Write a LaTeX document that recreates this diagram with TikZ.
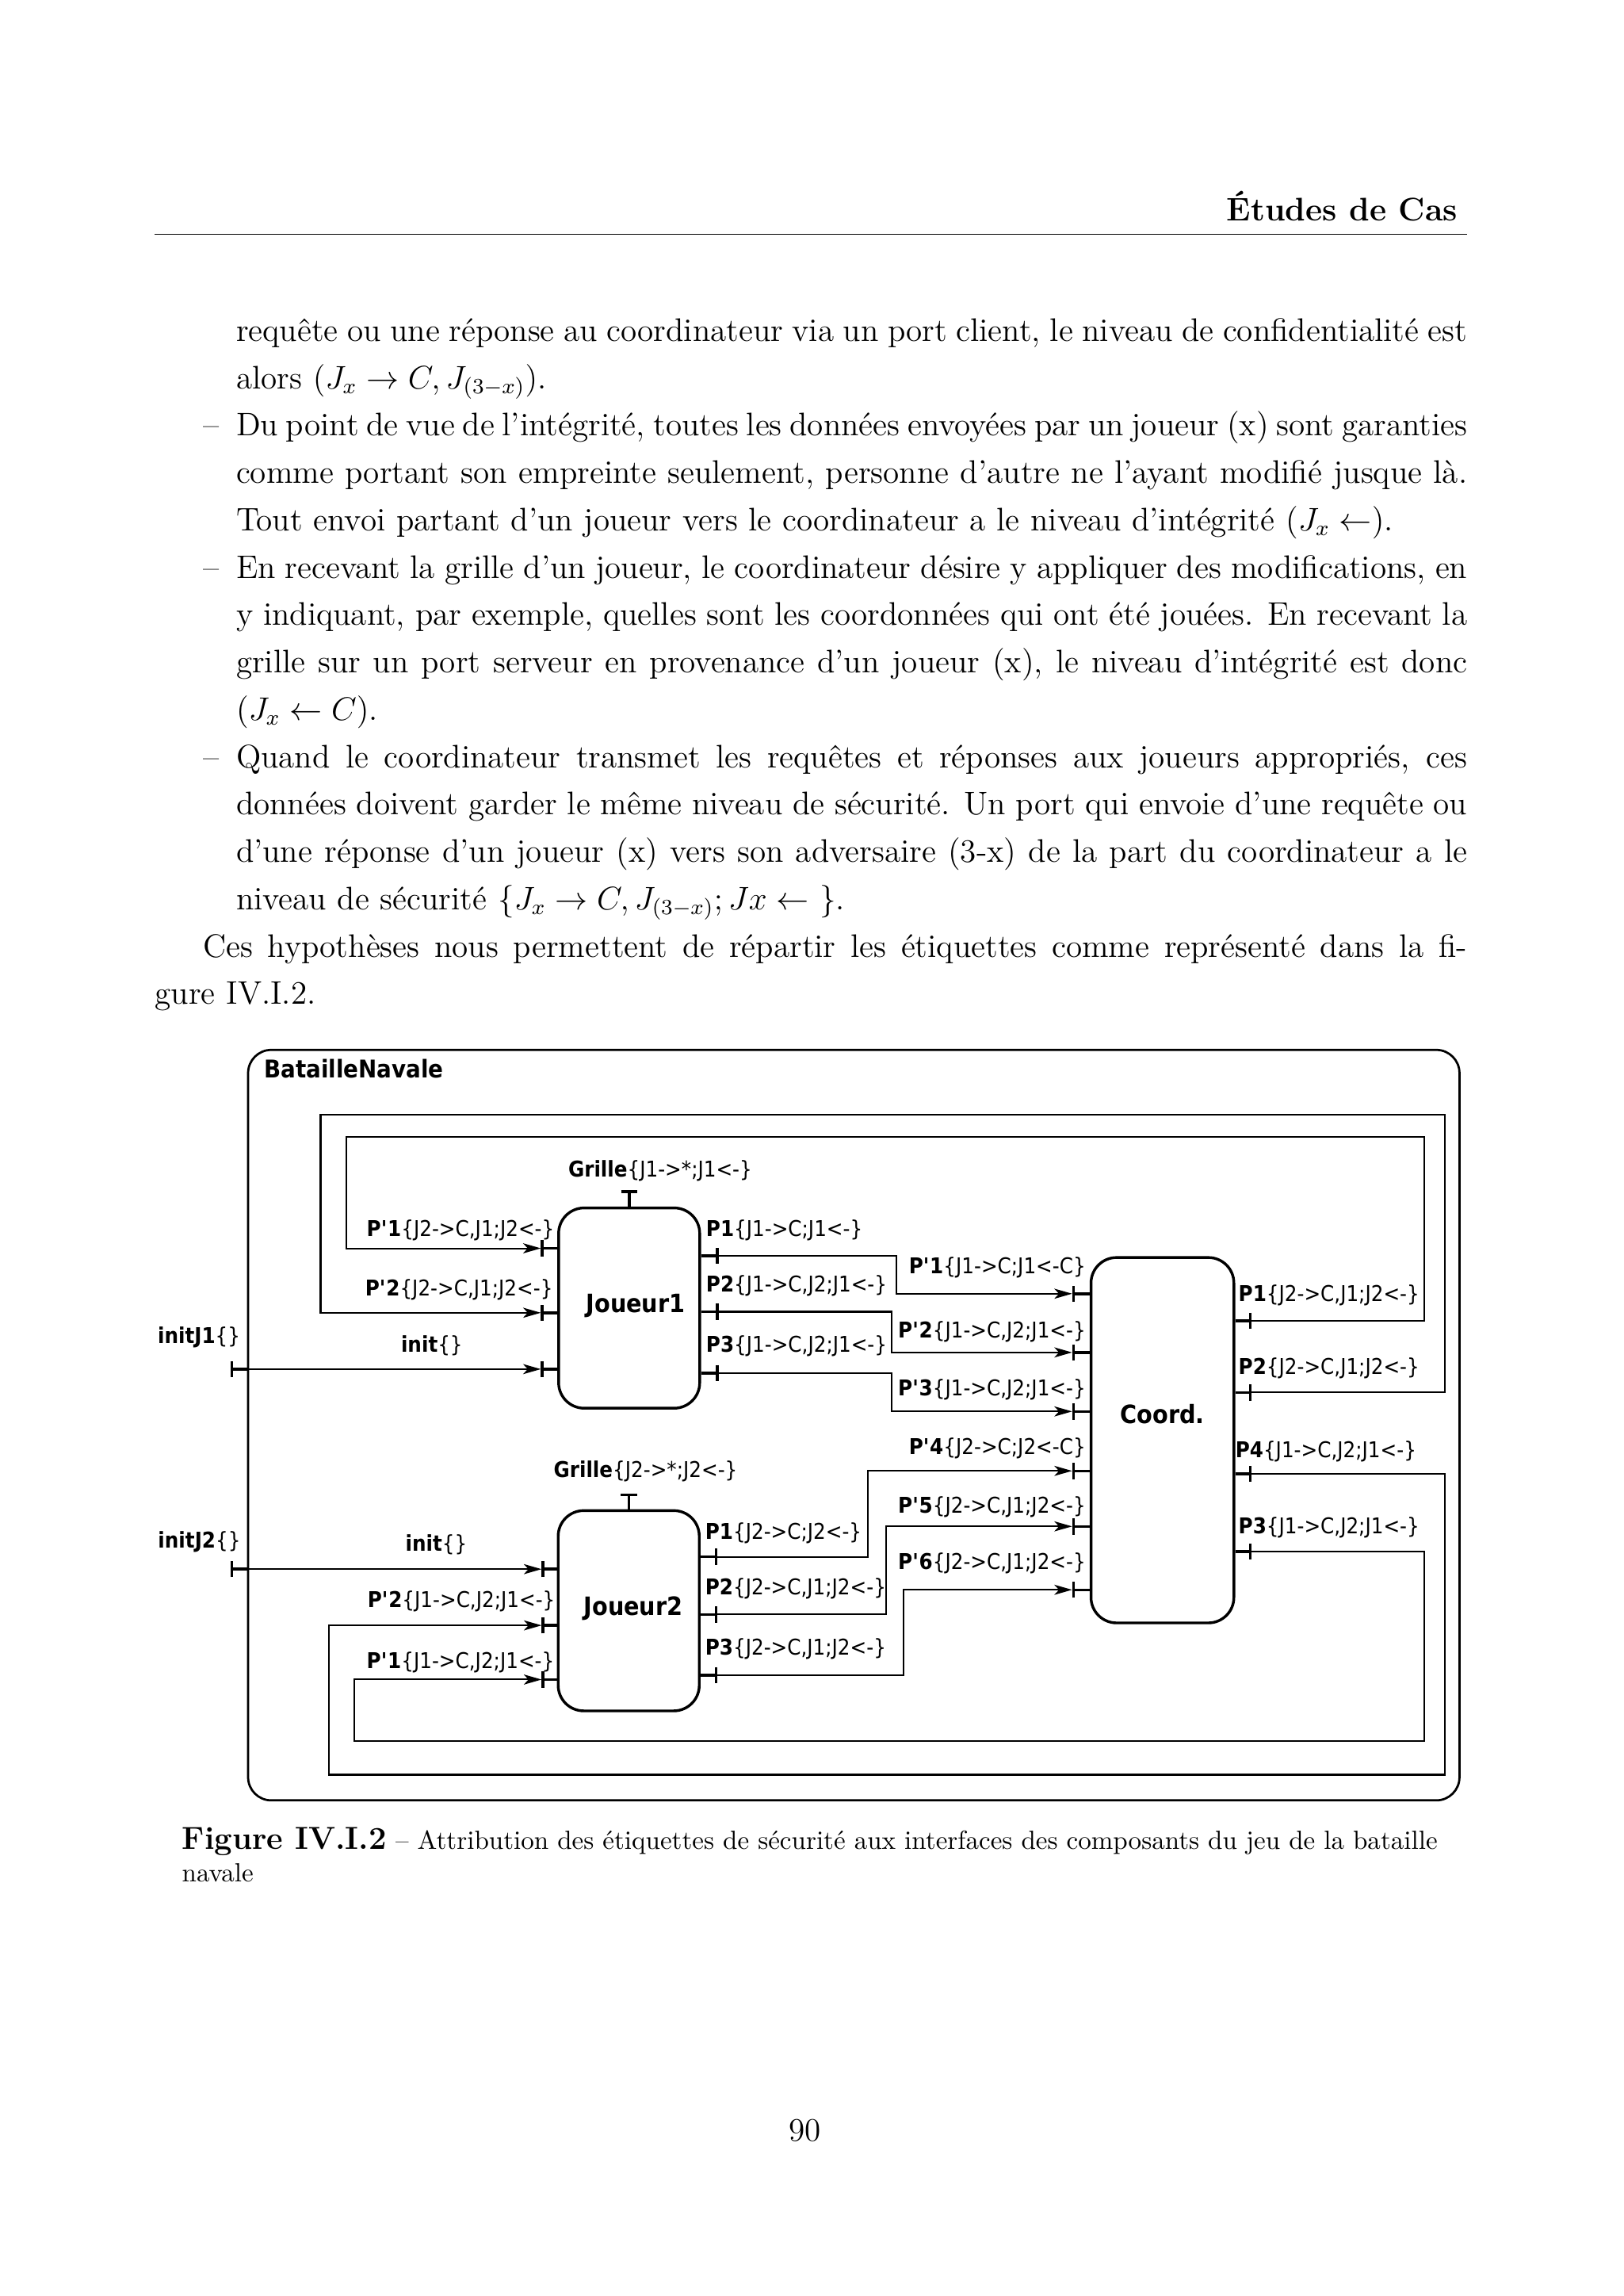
\documentclass[tikz,border=0pt]{standalone}
\usepackage{fontspec}
\newfontfamily\diafont[FakeStretch=0.9]{DejaVu Sans}
\usetikzlibrary{arrows.meta, positioning}
\newcommand{\plbl}[2]{\textbf{#1}\{#2\}}
\newcommand{\justline}[2]{\makebox[#1][s]{\spaceskip=0pt\relax\xspaceskip=0pt\relax #2}}

\begin{document}
\begin{tikzpicture}[x=0.18936mm, y=-0.18936mm,
        comp/.style={draw, line width=1pt, rounded corners=3.3mm, minimum width=18.25mm, minimum height=25.9mm},
        compname/.style={font=\diafont\bfseries\fontsize{9.3}{11}\selectfont},
        stub/.style={line width=1pt, -{Bar[width=2.1mm]}},
        conn/.style={line width=0.6pt, -{Stealth[length=2.3mm, width=1.3mm, inset=0.6mm]}},
        lbl/.style={inner sep=0pt, font=\diafont\fontsize{8}{9.6}\selectfont},
        body/.style={anchor=base west, inner sep=0pt, font=\fontsize{12}{17.43}\selectfont}
    ]
        \fill[white] (0,0) rectangle (1109,1568);
        \useasboundingbox (0,0) rectangle (1109,1568);

        % Page header
        \node[anchor=base east, inner sep=0pt, font=\bfseries\fontsize{12}{14.5}\selectfont] (hdr) at (996,151) {Études de Cas};
        \draw[line width=0.5pt] (105.6,160) -- (1002,160);

        % Text
        \node[body, text width=159.25mm] (par0) at (161,233) {%
            \justline{159.25mm}{requête ou une réponse au coordinateur via un port client, le niveau de confidentialité est}\\
            alors $(J_x \rightarrow C, J_{(3-x)})$.};
        \node[anchor=base east, inner sep=0pt, font=\fontsize{12}{14.5}\selectfont] (d1) at (150,297.7) {\textendash};
        \node[body, text width=159.25mm] (item1) at (161,297.7) {%
            \justline{159.25mm}{Du point de vue de l'intégrité, toutes les données envoyées par un joueur (x) sont garanties}\\
            \justline{159.25mm}{comme portant son empreinte seulement, personne d'autre ne l'ayant modifié jusque là.}\\
            Tout envoi partant d'un joueur vers le coordinateur a le niveau d'intégrité $(J_x \leftarrow)$.};
        \node[anchor=base east, inner sep=0pt, font=\fontsize{12}{14.5}\selectfont] (d2) at (150,394.8) {\textendash};
        \node[body, text width=159.25mm] (item2) at (161,394.8) {%
            \justline{159.25mm}{En recevant la grille d'un joueur, le coordinateur désire y appliquer des modifications, en}\\
            \justline{159.25mm}{y indiquant, par exemple, quelles sont les coordonnées qui ont été jouées. En recevant la}\\
            \justline{159.25mm}{grille sur un port serveur en provenance d'un joueur (x), le niveau d'intégrité est donc}\\
            $(J_x \leftarrow C)$.};
        \node[anchor=base east, inner sep=0pt, font=\fontsize{12}{14.5}\selectfont] (d3) at (150,524.2) {\textendash};
        \node[body, text width=159.25mm] (item3) at (161,524.2) {%
            \justline{159.25mm}{Quand le coordinateur transmet les requêtes et réponses aux joueurs appropriés, ces}\\
            \justline{159.25mm}{données doivent garder le même niveau de sécurité. Un port qui envoie d'une requête ou}\\
            \justline{159.25mm}{d'une réponse d'un joueur (x) vers son adversaire (3-x) de la part du coordinateur a le}\\
            niveau de sécurité $\{J_x \rightarrow C, J_{(3-x)}; Jx \leftarrow\ \}$.};
        \node[body, text width=169.74mm] (par1) at (105.6,653.6) {%
            \hspace*{6.2mm}\justline{163.54mm}{Ces hypothèses nous permettent de répartir les étiquettes comme représenté dans la fi-}\\
            gure IV.I.2.};

        % Composite
        \node[draw, line width=0.8pt, rounded corners=3mm, minimum width=156.7mm, minimum height=97.05mm] (bn) at (583.25,973.25) {};
        \node[anchor=west, inner sep=0pt, font=\diafont\bfseries\fontsize{9}{11}\selectfont] (bntitle) at (180,730) {BatailleNavale};

        % Components
        \node[comp, label={[compname, xshift=0.85mm, yshift=0.3mm]center:Joueur1}] (j1) at (429.8,893.3) {};
        \node[comp, label={[compname, xshift=0.6mm, yshift=0.3mm]center:Joueur2}] (j2) at (429.5,1100) {};
        \node[comp, minimum width=18.48mm, minimum height=47.25mm, label={[compname, yshift=3.4mm]center:Coord.}] (co) at (794.1,983.55) {};

        % Port ends
        \coordinate (bn-i1) at (157.5,935);
        \coordinate (bn-i2) at (157.5,1071.6);
        \coordinate (j1-gr) at (429.8,812.8);
        \coordinate (j1-pp1) at (369.5,852.5);
        \coordinate (j1-pp2) at (369.5,896.5);
        \coordinate (j1-in) at (369.5,935);
        \coordinate (j1-p1) at (491,857.7);
        \coordinate (j1-p2) at (491,895.8);
        \coordinate (j1-p3) at (491,937.7);
        \coordinate (j2-gr) at (429.5,1019.8);
        \coordinate (j2-in) at (370,1071.6);
        \coordinate (j2-pp2) at (370,1110);
        \coordinate (j2-pp1) at (370,1147);
        \coordinate (j2-p1) at (490,1063.2);
        \coordinate (j2-p2) at (490,1102.5);
        \coordinate (j2-p3) at (490,1144);
        \coordinate (co-pp1) at (732.4,883.5);
        \coordinate (co-pp2) at (732.4,923.6);
        \coordinate (co-pp3) at (732.4,963.9);
        \coordinate (co-pp4) at (732.4,1004.5);
        \coordinate (co-pp5) at (732.4,1042.4);
        \coordinate (co-pp6) at (732.4,1085.7);
        \coordinate (co-p1) at (855,902);
        \coordinate (co-p2) at (855,951);
        \coordinate (co-p4) at (855,1006.6);
        \coordinate (co-p3) at (855,1059.5);

        % Port stubs
        \draw[stub] (bn.west |- bn-i1) -- (bn-i1);
        \draw[stub] (bn.west |- bn-i2) -- (bn-i2);
        \draw[stub] (j1.north) -- (j1-gr);
        \draw[stub] (j2.north) -- (j2-gr);
        \foreach \p in {pp1,pp2,in} \draw[stub] (j1.west |- j1-\p) -- (j1-\p);
        \foreach \p in {p1,p2,p3} \draw[stub] (j1.east |- j1-\p) -- (j1-\p);
        \foreach \p in {pp1,pp2,in} \draw[stub] (j2.west |- j2-\p) -- (j2-\p);
        \foreach \p in {p1,p2,p3} \draw[stub] (j2.east |- j2-\p) -- (j2-\p);
        \foreach \p in {pp1,pp2,pp3,pp4,pp5,pp6} \draw[stub] (co.west |- co-\p) -- (co-\p);
        \foreach \p in {p1,p2,p3,p4} \draw[stub] (co.east |- co-\p) -- (co-\p);

        % Connections
        \draw[conn] (bn.west |- bn-i1) -- (j1-in);
        \draw[conn] (bn.west |- bn-i2) -- (j2-in);
        \draw[conn] (co-p1) -| (973.1,776.2) -| (236.4,852.5) -- (j1-pp1);
        \draw[conn] (co-p2) -| (987.2,761.2) -| (219,896.5) -- (j1-pp2);
        \draw[conn] (j1-p1) -| (612.3,883.5) -- (co-pp1);
        \draw[conn] (j1-p2) -| (609.2,923.6) -- (co-pp2);
        \draw[conn] (j1-p3) -| (609.2,963.9) -- (co-pp3);
        \draw[conn] (j2-p1) -| (592.9,1004.5) -- (co-pp4);
        \draw[conn] (j2-p2) -| (605.3,1042.4) -- (co-pp5);
        \draw[conn] (j2-p3) -| (617.2,1085.7) -- (co-pp6);
        \draw[conn] (co-p4) -| (987.2,1212) -| (224.7,1110) -- (j2-pp2);
        \draw[conn] (co-p3) -| (973.1,1189.2) -| (241.8,1147) -- (j2-pp1);

        % Port labels
        \node[lbl, anchor=east] (l-i1) at (164.5,913.3) {\plbl{initJ1}{}};
        \node[lbl, anchor=east] (l-i2) at (164.7,1053.2) {\plbl{initJ2}{}};
        \node[lbl] (l-j1gr) at (451,799.6) {\plbl{Grille}{J1->*;J1<-}};
        \node[lbl, anchor=east] (l-j1pp1) at (379,840.2) {\plbl{P\textquotesingle1}{J2->C,J1;J2<-}};
        \node[lbl, anchor=east] (l-j1pp2) at (378,880.8) {\plbl{P\textquotesingle2}{J2->C,J1;J2<-}};
        \node[lbl] (l-j1in) at (295,918.8) {\plbl{init}{}};
        \node[lbl, anchor=west] (l-j1p1) at (482,840) {\plbl{P1}{J1->C;J1<-}};
        \node[lbl, anchor=west] (l-j1p2) at (482,878) {\plbl{P2}{J1->C,J2;J1<-}};
        \node[lbl, anchor=west] (l-j1p3) at (482,919.5) {\plbl{P3}{J1->C,J2;J1<-}};
        \node[lbl] (l-j2gr) at (441,1005) {\plbl{Grille}{J2->*;J2<-}};
        \node[lbl] (l-j2in) at (298,1054.9) {\plbl{init}{}};
        \node[lbl, anchor=east] (l-j2pp2) at (379.6,1093.8) {\plbl{P\textquotesingle2}{J1->C,J2;J1<-}};
        \node[lbl, anchor=east] (l-j2pp1) at (379,1135.3) {\plbl{P\textquotesingle1}{J1->C,J2;J1<-}};
        \node[lbl, anchor=west] (l-j2p1) at (481.4,1046.9) {\plbl{P1}{J2->C;J2<-}};
        \node[lbl, anchor=west] (l-j2p2) at (481.4,1084.8) {\plbl{P2}{J2->C,J1;J2<-}};
        \node[lbl, anchor=west] (l-j2p3) at (481.4,1126.3) {\plbl{P3}{J2->C,J1;J2<-}};
        \node[lbl, anchor=east] (l-copp1) at (742,865.4) {\plbl{P\textquotesingle1}{J1->C;J1<-C}};
        \node[lbl, anchor=east] (l-copp2) at (742,909.7) {\plbl{P\textquotesingle2}{J1->C,J2;J1<-}};
        \node[lbl, anchor=east] (l-copp3) at (742,949.3) {\plbl{P\textquotesingle3}{J1->C,J2;J1<-}};
        \node[lbl, anchor=east] (l-copp4) at (742,989.2) {\plbl{P\textquotesingle4}{J2->C;J2<-C}};
        \node[lbl, anchor=east] (l-copp5) at (742,1028.9) {\plbl{P\textquotesingle5}{J2->C,J1;J2<-}};
        \node[lbl, anchor=east] (l-copp6) at (742,1067.7) {\plbl{P\textquotesingle6}{J2->C,J1;J2<-}};
        \node[lbl, anchor=west] (l-cop1) at (845.7,884.5) {\plbl{P1}{J2->C,J1;J2<-}};
        \node[lbl, anchor=west] (l-cop2) at (845.7,934.2) {\plbl{P2}{J2->C,J1;J2<-}};
        \node[lbl, anchor=west] (l-cop4) at (843.6,991) {\plbl{P4}{J1->C,J2;J1<-}};
        \node[lbl, anchor=west] (l-cop3) at (845.7,1043.3) {\plbl{P3}{J1->C,J2;J1<-}};

        % Caption and page number
        \node[anchor=base west, inner sep=0pt] (cap) at (124,1263) {{\fontsize{11.7}{14}\bfseries Figure IV.I.2} {\fontsize{9.65}{11.6}\selectfont \textendash{} Attribution des étiquettes de sécurité aux interfaces des composants du jeu de la bataille}};
        \node[anchor=base west, inner sep=0pt, font=\fontsize{9.65}{11.6}\selectfont] (cap2) at (124,1285) {navale};
        \node[anchor=base, inner sep=0pt, font=\fontsize{12}{14.5}\selectfont] (pg) at (550,1462) {90};
    \end{tikzpicture}
\end{document}
